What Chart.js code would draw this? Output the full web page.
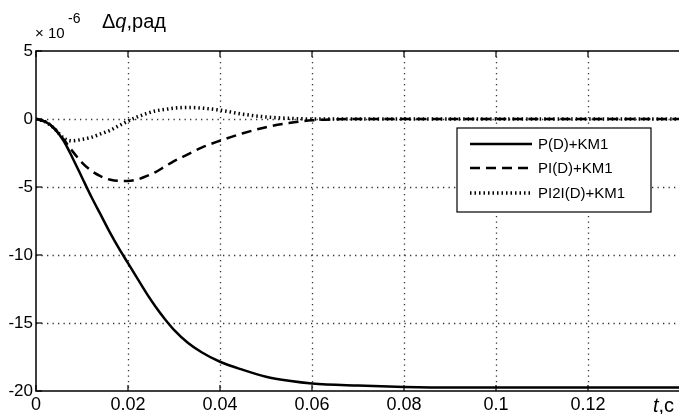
<!DOCTYPE html>
<html>
<head>
<meta charset="utf-8">
<script src="https://cdn.jsdelivr.net/npm/chart.js@4"></script>
<style>
  html, body { margin: 0; padding: 0; background: #fff; overflow: hidden; }
  #wrap { width: 690px; height: 414px; }
</style>
</head>
<body>
<div id="wrap"><canvas id="c" width="690" height="414"></canvas></div>
<script>
const tValues = [0, 0.002, 0.004, 0.006, 0.008, 0.010, 0.012, 0.014, 0.016, 0.018, 0.020,
  0.022, 0.024, 0.026, 0.028, 0.030, 0.033, 0.036, 0.040, 0.045, 0.050, 0.055, 0.060,
  0.070, 0.080, 0.090, 0.100, 0.110, 0.120, 0.130, 0.140];

const seriesP = [0, -0.2, -0.7, -1.6, -2.9, -4.3, -5.7, -7.0, -8.3, -9.5, -10.6,
  -11.7, -12.8, -13.8, -14.7, -15.5, -16.45, -17.15, -17.85, -18.45, -18.95, -19.25, -19.45,
  -19.6, -19.7, -19.75, -19.75, -19.75, -19.75, -19.75, -19.75];

const seriesPI = [0, -0.2, -0.7, -1.5, -2.4, -3.2, -3.8, -4.2, -4.45, -4.55, -4.55,
  -4.45, -4.2, -3.9, -3.5, -3.1, -2.6, -2.1, -1.6, -1.05, -0.6, -0.3, -0.1,
  0, 0, 0, 0, 0, 0, 0, 0];

const seriesPI2I = [0, -0.2, -0.7, -1.4, -1.6, -1.5, -1.35, -1.1, -0.85, -0.5, -0.15,
  0.15, 0.4, 0.6, 0.7, 0.8, 0.85, 0.8, 0.65, 0.35, 0.15, 0.05, 0,
  0, 0, 0, 0, 0, 0, 0, 0];

const seriesNames = ['P(D)+KM1', 'PI(D)+KM1', 'PI2I(D)+KM1'];
const xTicks = [0, 0.02, 0.04, 0.06, 0.08, 0.1, 0.12];
const yTicks = [5, 0, -5, -10, -15, -20];

const FONT = "'Liberation Sans', Arial, sans-serif";

const toPoints = ys => tValues.map((t, i) => ({ x: t, y: ys[i] }));

// dotted grid, drawn under the lines
const dottedGridPlugin = {
  id: 'dottedGrid',
  beforeDatasetsDraw(chart) {
    const { ctx, chartArea: a, scales } = chart;
    ctx.save();
    ctx.strokeStyle = '#333';
    ctx.lineWidth = 1.3;
    ctx.setLineDash([1.3, 4.2]);
    xTicks.slice(1).forEach(v => {
      const x = Math.round(scales.x.getPixelForValue(v)) + 0.5;
      ctx.beginPath();
      ctx.moveTo(x, a.top); ctx.lineTo(x, a.bottom);
      ctx.stroke();
    });
    yTicks.slice(1, -1).forEach(v => {
      const y = Math.round(scales.y.getPixelForValue(v)) + 0.5;
      ctx.beginPath();
      ctx.moveTo(a.left, y); ctx.lineTo(a.right, y);
      ctx.stroke();
    });
    ctx.restore();
  }
};

const frameAndTextPlugin = {
  id: 'frameAndText',
  afterDraw(chart) {
    const { ctx, chartArea: a, scales } = chart;
    ctx.save();
    // frame
    ctx.strokeStyle = '#000';
    ctx.lineWidth = 1.5;
    ctx.strokeRect(a.left, a.top, a.right - a.left, a.bottom - a.top);
    // inner tick marks
    ctx.lineWidth = 1.2;
    xTicks.forEach(v => {
      const x = scales.x.getPixelForValue(v);
      ctx.beginPath();
      ctx.moveTo(x, a.bottom); ctx.lineTo(x, a.bottom - 6);
      ctx.moveTo(x, a.top); ctx.lineTo(x, a.top + 6);
      ctx.stroke();
    });
    yTicks.forEach(v => {
      const y = scales.y.getPixelForValue(v);
      ctx.beginPath();
      ctx.moveTo(a.left, y); ctx.lineTo(a.left + 6, y);
      ctx.stroke();
    });

    // axis captions
    ctx.fillStyle = '#000';
    ctx.textBaseline = 'alphabetic';
    ctx.textAlign = 'left';
    ctx.font = '15px ' + FONT;
    ctx.fillText('\u00d7 10', 35, 38);
    ctx.font = '14px ' + FONT;
    ctx.fillText('-6', 68, 23);
    ctx.font = '20px ' + FONT;
    ctx.fillText('\u0394', 102, 28);
    let w = ctx.measureText('\u0394').width;
    ctx.font = 'italic 20px ' + FONT;
    ctx.fillText('q', 102 + w, 28);
    w += ctx.measureText('q').width;
    ctx.font = '20px ' + FONT;
    ctx.fillText(',рад', 102 + w, 28);

    ctx.font = 'italic 20px ' + FONT;
    ctx.fillText('t', 653, 412);
    const tw = ctx.measureText('t').width;
    ctx.font = '20px ' + FONT;
    ctx.fillText(',c', 653 + tw, 412);

    // legend
    const lx = 457, ly = 128, lw = 194, lh = 84;
    ctx.fillStyle = '#fff';
    ctx.fillRect(lx, ly, lw, lh);
    ctx.strokeStyle = '#000';
    ctx.lineWidth = 1.2;
    ctx.strokeRect(lx, ly, lw, lh);
    const rows = [144, 168, 193];
    chart.data.datasets.forEach((ds, i) => {
      ctx.strokeStyle = '#000';
      ctx.lineWidth = ds.borderWidth;
      ctx.setLineDash(ds.borderDash || []);
      ctx.beginPath();
      ctx.moveTo(470, rows[i]);
      ctx.lineTo(532, rows[i]);
      ctx.stroke();
      ctx.setLineDash([]);
      ctx.fillStyle = '#000';
      ctx.font = '15px ' + FONT;
      ctx.textBaseline = 'middle';
      ctx.fillText(ds.label, 538, rows[i] + 1);
    });
    ctx.restore();
  }
};

const hiddenGrid = { color: 'rgba(0,0,0,0)', drawTicks: false };

new Chart(document.getElementById('c'), {
  type: 'line',
  data: {
    datasets: [
      { label: seriesNames[0], data: toPoints(seriesP), borderColor: '#000', borderWidth: 2.5, pointRadius: 0, cubicInterpolationMode: 'monotone' },
      { label: seriesNames[1], data: toPoints(seriesPI), borderColor: '#000', borderWidth: 2.5, borderDash: [10, 6], pointRadius: 0, cubicInterpolationMode: 'monotone' },
      { label: seriesNames[2], data: toPoints(seriesPI2I), borderColor: '#000', borderWidth: 3.5, borderDash: [1.5, 3], pointRadius: 0, cubicInterpolationMode: 'monotone' }
    ]
  },
  options: {
    responsive: false,
    animation: false,
    layout: { padding: { left: 0, top: 51, right: 10, bottom: 0 } },
    scales: {
      x: {
        type: 'linear', min: 0, max: 0.14,
        afterFit: s => { s.height = 23; },
        afterBuildTicks: s => { s.ticks = xTicks.map(v => ({ value: v })); },
        grid: hiddenGrid,
        border: { display: false },
        ticks: {
          color: '#000', font: { family: FONT, size: 18 },
          padding: 3, maxRotation: 0, callback: v => String(v)
        }
      },
      y: {
        min: -20, max: 5,
        afterFit: s => { s.width = 36; },
        afterBuildTicks: s => { s.ticks = yTicks.map(v => ({ value: v })); },
        grid: hiddenGrid,
        border: { display: false },
        ticks: {
          color: '#000', font: { family: FONT, size: 17 },
          padding: 3
        }
      }
    },
    plugins: { legend: { display: false }, tooltip: { enabled: false } }
  },
  plugins: [dottedGridPlugin, frameAndTextPlugin]
});
</script>
</body>
</html>
